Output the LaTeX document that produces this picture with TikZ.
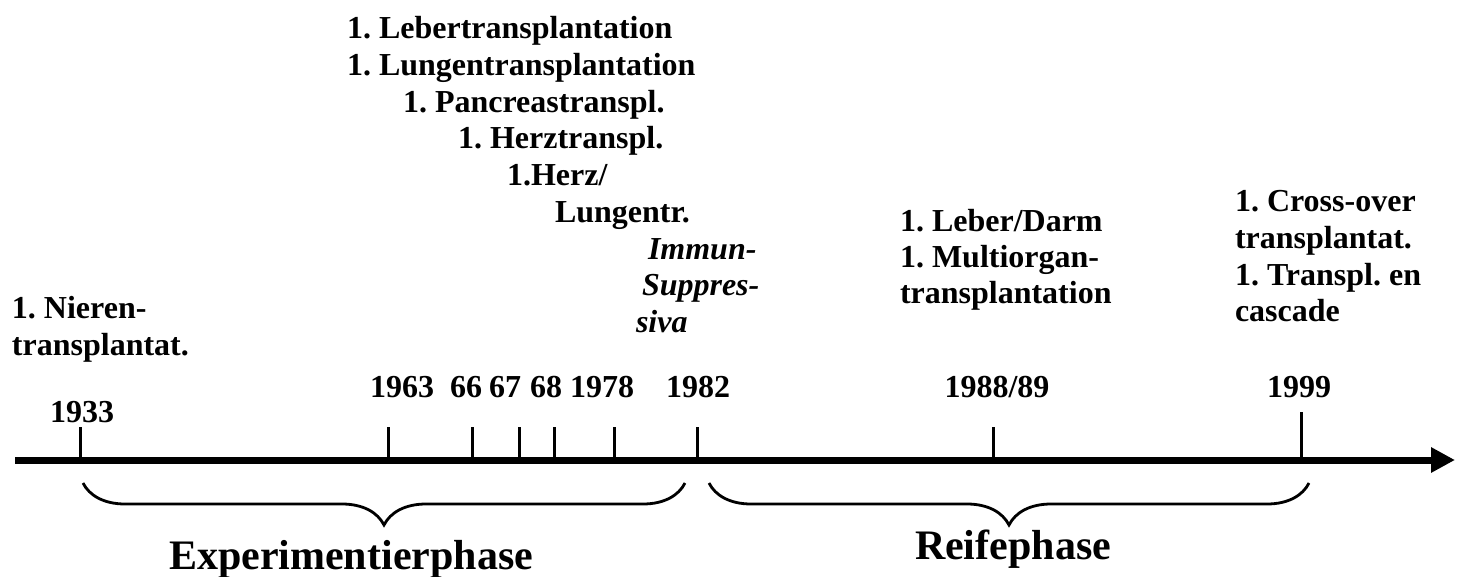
\documentclass[tikz,border=0pt]{standalone}
\usepackage{fontspec}
\setmainfont{Liberation Serif}
\usepackage{tikz}
\usetikzlibrary{positioning}
\usetikzlibrary{arrows.meta}
\usetikzlibrary{decorations.pathreplacing}
\frenchspacing

\begin{document}
\begin{tikzpicture}[x=1pt,y=-1pt,
  every node/.style={inner sep=0pt,outer sep=0pt,font=\fontsize{32}{36.8}\selectfont\bfseries},
  evt/.style={anchor=base west},
  yr/.style={anchor=base},
  imm/.style={anchor=base west,font=\fontsize{32}{36.8}\selectfont\bfseries\itshape},
  phase/.style={anchor=base,font=\fontsize{42}{48}\selectfont\bfseries},
  yeartick/.style={line width=3pt},
  phasebrace/.style={line width=2.8pt,decorate,decoration={brace,mirror,amplitude=42pt}}]
\useasboundingbox (0,0) rectangle (1457,576);
% time axis
\coordinate (start) at (15,460);
\coordinate (end) at (1455,460);
\draw[line width=7pt,-{Triangle[length=24pt,width=24pt]}] (start) -- (end);
% ticks
\foreach \name/\x in {t33/80,t63/388,t66/472,t67/519,t68/554,t78/614,t82/697,t88/993}
  \draw[yeartick] (\x,427) coordinate (\name) -- (\x,460);
\draw[yeartick] (1301,412) coordinate (t99) -- (1301,460);
% years
\node[yr] (y33) at (82,422) {1933};
\node[yr] (y63) at (402,397) {1963};
\node[yr] (y66) at (466,397) {66};
\node[yr] (y67) at (505,397) {67};
\node[yr] (y68) at (546,397) {68};
\node[yr] (y78) at (602,397) {1978};
\node[yr] (y82) at (698,397) {1982};
\node[yr] (y88) at (997,397) {1988/89};
\node[yr] (y99) at (1299,397) {1999};
% events
\node[evt] (niere) at (12,318) {1. Nieren-};
\node[evt] (niereb) at (12,355) {transplantat.};
\node[evt] (leber) at (347,38) {1. Lebertransplantation};
\node[evt] (lunge) at (347,75) {1. Lungentransplantation};
\node[evt] (pankreas) at (403,112) {1. Pancreastranspl.};
\node[evt] (herz) at (458,148) {1. Herztranspl.};
\node[evt] (herzlunge) at (507,185) {1.Herz/};
\node[evt] (herzlungeb) at (555,222) {Lungentr.};
\node[imm] (immun) at (648,259) {Immun-};
\node[imm] (immunb) at (642,295) {Suppres-};
\node[imm] (immunc) at (636,332) {siva};
\node[evt] (darm) at (900,231) {1. Leber/Darm};
\node[evt] (multi) at (900,267) {1. Multiorgan-};
\node[evt] (multib) at (900,303) {transplantation};
\node[evt] (cross) at (1235,211) {1. Cross-over};
\node[evt] (crossb) at (1235,248) {transplantat.};
\node[evt] (kaskade) at (1235,285) {1. Transpl. en};
\node[evt] (kaskadeb) at (1235,321) {cascade};
% phases
\draw[phasebrace] (83,483) coordinate (exp1) -- (685,483) coordinate (exp2);
\draw[phasebrace] (709,483) coordinate (reif1) -- (1309,483) coordinate (reif2);
\node[phase] (exp) at (351,569) {Experimentierphase};
\node[phase] (reife) at (1013,559) {Reifephase};
\end{tikzpicture}
\end{document}
